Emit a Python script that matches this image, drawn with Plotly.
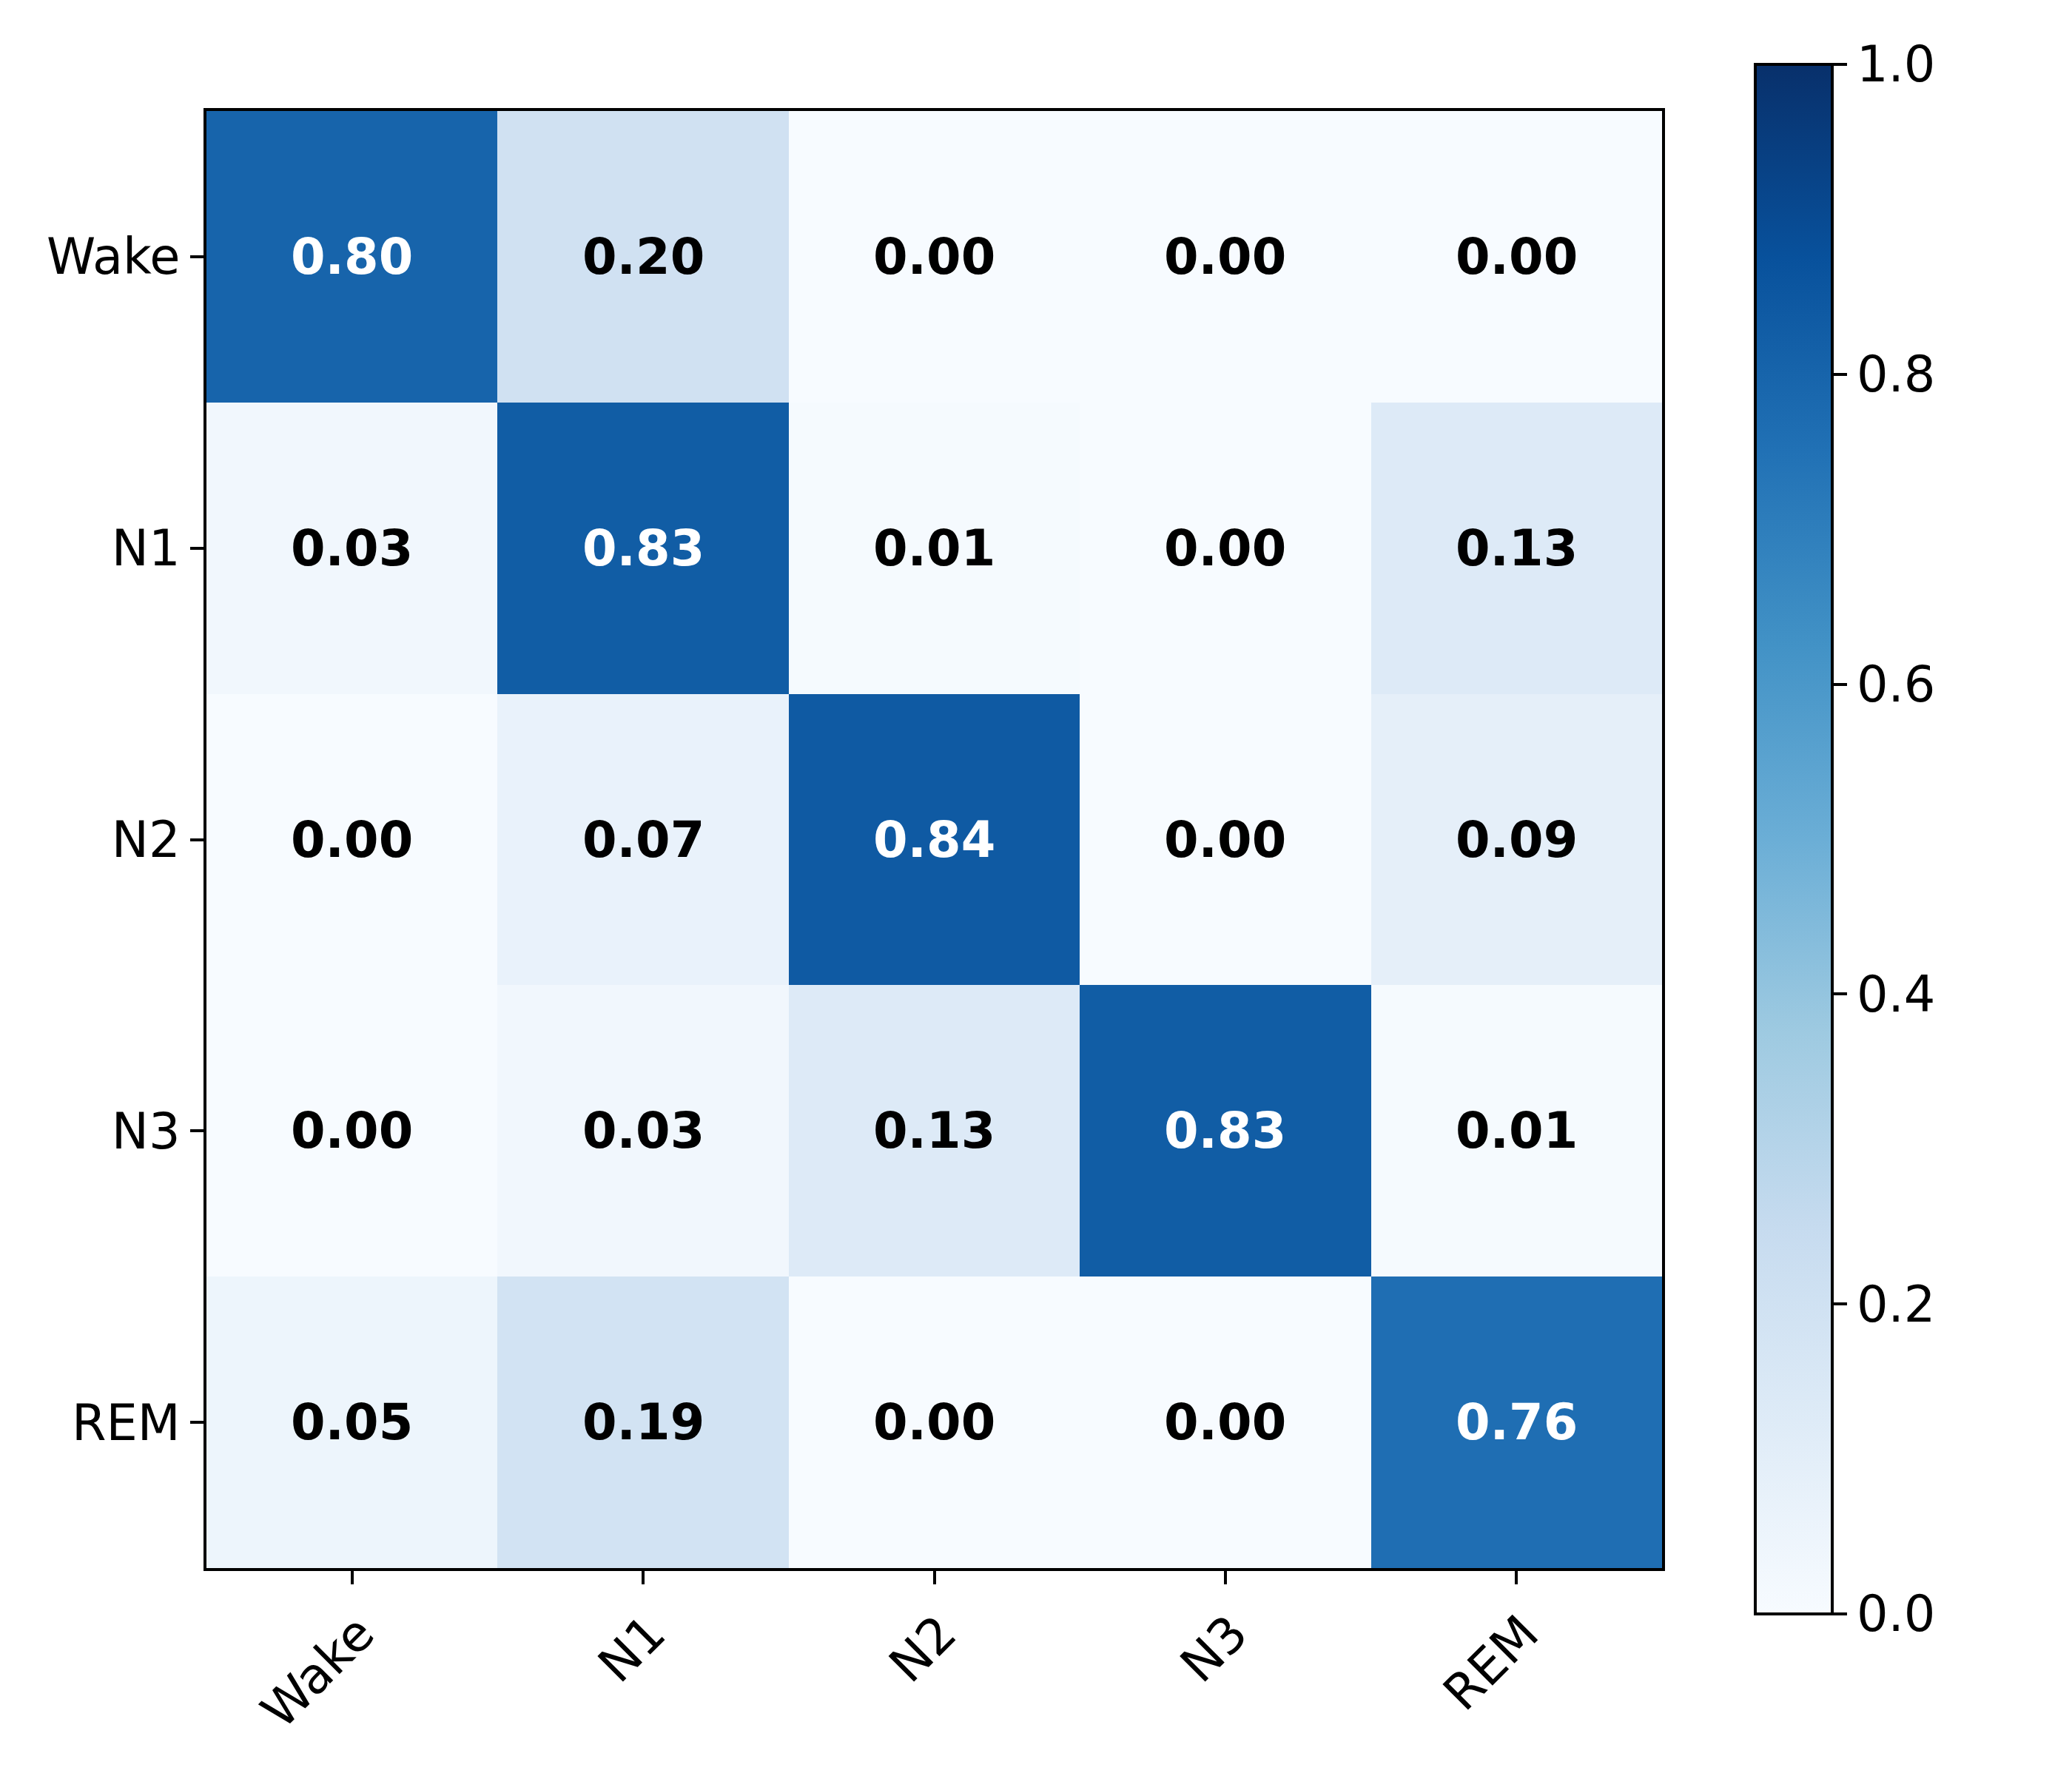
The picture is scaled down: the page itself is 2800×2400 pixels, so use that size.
import plotly.graph_objects as go
import plotly.colors as pc

labels = ["Wake", "N1", "N2", "N3", "REM"]
matrix = [
    [0.80, 0.20, 0.00, 0.00, 0.00],
    [0.03, 0.83, 0.01, 0.00, 0.13],
    [0.00, 0.07, 0.84, 0.00, 0.09],
    [0.00, 0.03, 0.13, 0.83, 0.01],
    [0.05, 0.19, 0.00, 0.00, 0.76],
]
cbar_ticks = [0.0, 0.2, 0.4, 0.6, 0.8, 1.0]

W, H = 2800, 2400
L, R, T, B = 271, 2238, 142, 2111
CB_L, CB_R, CB_T, CB_B = 2364, 2468, 79, 2173

blues = pc.sequential.Blues
n = len(blues)
colorscale = [[i / (n - 1), c] for i, c in enumerate(blues)]

font = "DejaVu Sans"

fig = go.Figure()
fig.add_trace(go.Heatmap(
    z=matrix, x=labels, y=labels,
    colorscale=colorscale, zmin=0, zmax=1,
    xgap=0, ygap=0,
    colorbar=dict(
        x=CB_L / W, xanchor="left", xref="paper",
        y=1 - (CB_T + CB_B) / 2 / H, yanchor="middle", yref="paper",
        len=(CB_B - CB_T) / H, lenmode="fraction",
        thickness=CB_R - CB_L, thicknessmode="pixels",
        outlinewidth=4, outlinecolor="black",
        tickvals=cbar_ticks, ticktext=[f"{v:.1f}" for v in cbar_ticks],
        ticks="outside", ticklen=18, tickwidth=4, tickcolor="black",
        tickfont=dict(family=font, size=67, color="black"),
        ypad=0, xpad=0,
    ),
    hoverinfo="skip",
))

thresh = 0.5
for i, row in enumerate(matrix):
    for j, v in enumerate(row):
        fig.add_annotation(
            x=labels[j], y=labels[i], text=f"<b>{v:.2f}</b>", showarrow=False,
            font=dict(family=font, size=67, color="white" if v > thresh else "black"),
        )

axis_common = dict(
    showline=True, linewidth=4, linecolor="black", mirror=True,
    ticks="outside", ticklen=18, tickwidth=4, tickcolor="black",
    tickfont=dict(family=font, size=67, color="black"),
    showgrid=False, zeroline=False,
)

fig.update_layout(
    width=W, height=H,
    margin=dict(l=0, r=0, t=0, b=0),
    paper_bgcolor="white", plot_bgcolor="white",
    xaxis=dict(domain=[L / W, R / W], tickangle=-45, ticklabelshift=10, **axis_common),
    yaxis=dict(domain=[1 - B / H, 1 - T / H], autorange="reversed", **axis_common),
)

fig.write_html("out.html")
